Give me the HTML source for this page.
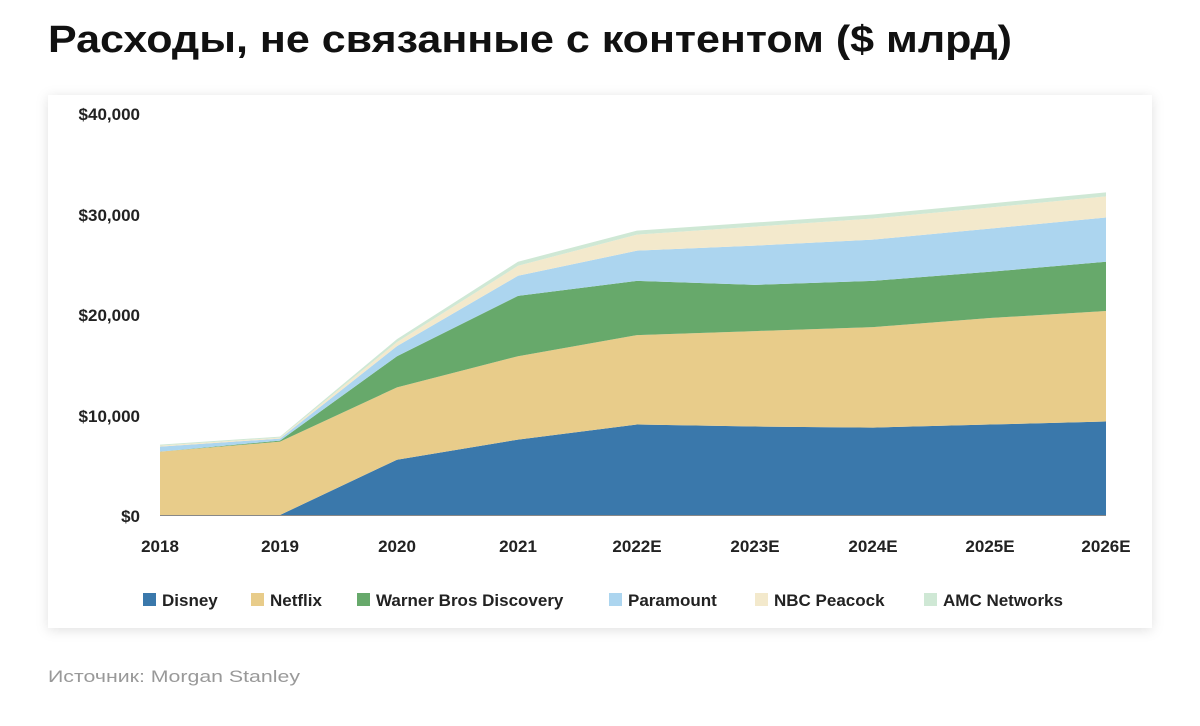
<!DOCTYPE html>
<html><head><meta charset="utf-8"><style>
html,body{margin:0;padding:0;background:#fff;width:1200px;height:726px;overflow:hidden}
</style></head><body>
<svg id="s" width="1200" height="726" xmlns="http://www.w3.org/2000/svg" font-family="Liberation Sans, DejaVu Sans, sans-serif">
<defs><filter id="sh" x="-5%" y="-5%" width="110%" height="110%"><feDropShadow dx="0" dy="2" stdDeviation="6" flood-color="#000" flood-opacity="0.12"/></filter></defs>
<text x="48" y="52" font-size="38" font-weight="bold" fill="#111" textLength="964" lengthAdjust="spacingAndGlyphs">Расходы, не связанные с контентом ($ млрд)</text>
<rect x="48" y="95" width="1104" height="533" fill="#fff" filter="url(#sh)"/>
<g id="areas"></g>
<g font-size="17" fill="#222" font-weight="bold" text-anchor="end">
<text x="140" y="120">$40,000</text><text x="140" y="221">$30,000</text><text x="140" y="321">$20,000</text><text x="140" y="422">$10,000</text><text x="140" y="522">$0</text>
</g>
<g id="xl" font-size="17" fill="#222" font-weight="bold" text-anchor="middle"></g>
<g font-size="17" fill="#222" font-weight="bold">
<rect x="143" y="593" width="13" height="13" fill="#3a78ab"/><text x="162" y="606">Disney</text>
<rect x="251" y="593" width="13" height="13" fill="#e8cc8a"/><text x="270" y="606">Netflix</text>
<rect x="357" y="593" width="13" height="13" fill="#67a96b"/><text x="376" y="606">Warner Bros Discovery</text>
<rect x="609" y="593" width="13" height="13" fill="#acd5ef"/><text x="628" y="606">Paramount</text>
<rect x="755" y="593" width="13" height="13" fill="#f3e9cc"/><text x="774" y="606">NBC Peacock</text>
<rect x="924" y="593" width="13" height="13" fill="#cfe8d5"/><text x="943" y="606">AMC Networks</text>
</g>
<text x="48" y="682" font-size="17" fill="#999" textLength="252" lengthAdjust="spacingAndGlyphs">Источник: Morgan Stanley</text>
</svg>
<script>
var xs=[160,280,397,518,637,755,873,990,1106];
var lab=["2018","2019","2020","2021","2022E","2023E","2024E","2025E","2026E"];
var tops=[
[0,0,5.5,7.5,9,8.8,8.7,9,9.3],
[6.3,7.3,12.7,15.8,17.9,18.3,18.7,19.6,20.3],
[6.3,7.4,15.8,21.8,23.3,22.9,23.3,24.2,25.2],
[6.8,7.6,16.8,23.8,26.3,26.8,27.4,28.5,29.6],
[6.9,7.7,17.2,24.8,27.9,28.7,29.5,30.6,31.7],
[7.0,7.8,17.5,25.2,28.3,29.1,29.9,31.0,32.1]];
var cols=["#3a78ab","#e8cc8a","#67a96b","#acd5ef","#f3e9cc","#cfe8d5"];
function y(v){return 515-v*10.05;}
var g=document.getElementById("areas"),h="";
for(var k=0;k<6;k++){
 var p="M"+xs[0]+","+y(tops[k][0]);
 for(var i=1;i<9;i++)p+=" L"+xs[i]+","+y(tops[k][i]);
 for(var i=8;i>=0;i--)p+=" L"+xs[i]+","+(k?y(tops[k-1][i]):515);
 h+='<path d="'+p+'Z" fill="'+cols[k]+'"/>';
}
h+='<line x1="160" y1="515.5" x2="1106" y2="515.5" stroke="#888" stroke-width="1"/>';
g.innerHTML=h;
var x="";for(var i=0;i<9;i++)x+='<text x="'+xs[i]+'" y="552">'+lab[i]+'</text>';
document.getElementById("xl").innerHTML=x;
</script>
</body></html>
